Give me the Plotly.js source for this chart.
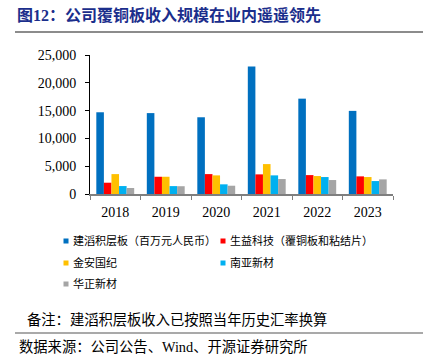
<!DOCTYPE html>
<html>
<head>
<meta charset="utf-8">
<script src="https://cdn.plot.ly/plotly-3.0.1.min.js"></script>
<style>html,body{margin:0;padding:0;background:#fff;}#chart{width:423px;height:356px;}</style>
</head>
<body>
<div id="chart"></div>
<script>
const years = ['2018', '2019', '2020', '2021', '2022', '2023'];
const seriesNames = ['建滔积层板（百万元人民币）', '生益科技（覆铜板和粘结片）', '金安国纪', '南亚新材', '华正新材'];
const kingboard = [14700, 14550, 13800, 22950, 17150, 14950];
const shengyi = [2030, 3100, 3580, 3530, 3400, 3170];
const goldenAnn = [3580, 3100, 3350, 5380, 3230, 3050];
const nanya = [1430, 1420, 1740, 3350, 3050, 2330];
const huazheng = [1080, 1400, 1490, 2690, 2510, 2630];
const yTicks = [0, 5000, 10000, 15000, 20000, 25000];
const yTickText = ['0', '5,000', '10,000', '15,000', '20,000', '25,000'];

const values = [kingboard, shengyi, goldenAnn, nanya, huazheng];
const colors = ['#0070C0', '#FF0000', '#FFC000', '#00B0F0', '#A5A5A5'];
const legendIds = ['legend', 'legend2', 'legend3', 'legend4', 'legend5'];
// left edge of each legend text, and its vertical centre (pixels)
const legendPos = [[72, 241], [229, 241], [72, 263], [229, 263], [72, 284]];
const W = 423, H = 356;
const ML = 90, MR = 30, MT = 55, MB = 162;
const cjk = '"Noto Sans CJK SC", "Noto Sans", sans-serif';
const mixed = '"Liberation Serif", "Noto Sans CJK SC", serif';
const serif = '"Liberation Serif", "Times New Roman", serif';

const traces = values.map((v, i) => ({
  type: 'bar', x: years, y: v, name: seriesNames[i],
  marker: {color: colors[i]}, legend: legendIds[i], showlegend: true
}));

const plotW = W - ML - MR, plotH = H - MT - MB;
const px = x => (x - ML) / plotW;
const py = y => (H - MB - y) / plotH;

const layout = {
  width: W, height: H,
  margin: {l: ML, r: MR, t: MT, b: MB, autoexpand: false},
  paper_bgcolor: '#fff', plot_bgcolor: '#fff',
  barmode: 'group', bargap: 0.25, bargroupgap: 0,
  title: {
    text: '<b>图12：公司覆铜板收入规模在业内遥遥领先</b>',
    font: {family: mixed, size: 16, color: '#1B2E8C'},
    x: 17 / W, xanchor: 'left', xref: 'container',
    y: 1 - 15 / H, yanchor: 'middle', yref: 'container'
  },
  xaxis: {
    type: 'category', showgrid: false, zeroline: false,
    showline: true, linecolor: '#7F7F7F', linewidth: 2,
    ticks: 'outside', tickson: 'boundaries', ticklen: 4, tickcolor: '#7F7F7F', tickwidth: 1,
    tickfont: {family: serif, size: 14, color: '#000'},
    ticklabelstandoff: 4
  },
  yaxis: {
    range: [0, 25000], showgrid: false, zeroline: false,
    showline: true, linecolor: '#000', linewidth: 1,
    ticks: 'outside', ticklen: 4, tickcolor: '#000',
    tickmode: 'array', tickvals: yTicks, ticktext: yTickText,
    tickfont: {family: serif, size: 14, color: '#000'},
    ticklabelstandoff: 6
  },
  shapes: [
    {type: 'line', xref: 'paper', yref: 'paper', x0: px(15), x1: px(423), y0: py(32), y1: py(32), line: {color: '#8C8C8C', width: 2}},
    {type: 'line', xref: 'paper', yref: 'paper', x0: px(15), x1: px(423), y0: py(333), y1: py(333), line: {color: '#8C8C8C', width: 1.5}}
  ],
  annotations: [
    {text: '备注：建滔积层板收入已按照当年历史汇率换算', xref: 'paper', yref: 'paper',
     showarrow: false, xanchor: 'left', yanchor: 'middle', x: px(25), y: py(320),
     font: {family: mixed, size: 14.3, color: '#000'}},
    {text: '数据来源：公司公告、Wind、开源证券研究所', xref: 'paper', yref: 'paper',
     showarrow: false, xanchor: 'left', yanchor: 'middle', x: px(17), y: py(347),
     font: {family: mixed, size: 14.3, color: '#000'}}
  ]
};

legendIds.forEach((id, i) => {
  layout[id] = {
    xref: 'paper', yref: 'paper',
    x: px(legendPos[i][0] - 39), y: py(legendPos[i][1]),
    xanchor: 'left', yanchor: 'middle',
    bgcolor: 'rgba(0,0,0,0)', borderwidth: 0,
    font: {family: cjk, size: 11, color: '#000'}
  };
});

Plotly.newPlot('chart', traces, layout, {displayModeBar: false, staticPlot: true}).then(gd => {
  // small square legend keys placed just before the text, as in the reference
  gd.querySelectorAll('g.traces g.legendpoints path').forEach(p => {
    p.setAttribute('d', 'M2.5,2.5H-2.5V-2.5H2.5Z');
    const g = p.closest('g.layers');
    if (g) g.setAttribute('transform', 'translate(13,0)');
  });
});
</script>
</body>
</html>
